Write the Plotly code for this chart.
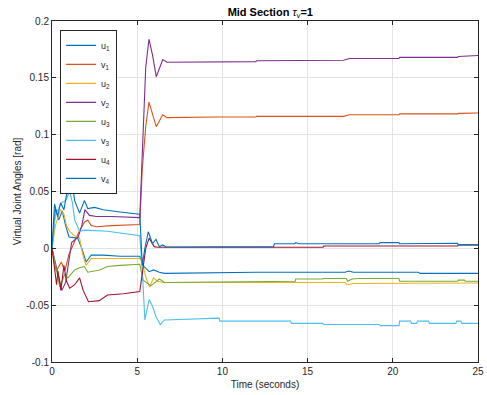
import plotly.graph_objects as go

# ---------------- data ----------------
t_u1 = [0, 0.2, 0.4, 0.6, 0.8, 1.0, 1.5, 1.75, 2.0, 2.3, 3.0, 4.0, 5.15, 5.4, 5.7, 5.96, 6.3, 6.6, 12.0, 17.2, 17.4, 17.7, 21.5, 21.6, 25]
u1 = [0, 0.035, 0.025, 0.033, 0.020, 0.010, 0.009, 0.000, -0.012, -0.006, -0.006, -0.007, -0.007, -0.016, -0.0205, -0.019, -0.021, -0.022, -0.021, -0.021, -0.020, -0.021, -0.021, -0.022, -0.022]

t_v1 = [0, 0.25, 0.55, 0.75, 1.0, 1.3, 1.6, 1.9, 2.1, 2.3, 2.6, 3.5, 5.15, 5.3, 5.5, 5.69, 5.9, 6.12, 6.3, 6.5, 6.75, 9.75, 9.8, 11.96, 12.0, 17.1, 17.46, 20.36, 20.4, 23.8, 23.85, 25]
v1 = [0, -0.020, -0.012, -0.020, -0.005, 0.005, 0.015, 0.023, 0.025, 0.020, 0.019, 0.020, 0.021, 0.070, 0.107, 0.1286, 0.119, 0.107, 0.112, 0.1175, 0.115, 0.1149, 0.1155, 0.1155, 0.1161, 0.1161, 0.1175, 0.1175, 0.1183, 0.1183, 0.1187, 0.119]

t_u2 = [0, 0.2, 0.5, 0.7, 0.85, 1.04, 1.33, 1.62, 1.8, 2.0, 2.3, 3.0, 4.0, 5.15, 5.3, 5.5, 5.73, 5.96, 6.2, 6.5, 17.2, 17.3, 17.7, 24.2, 24.3, 25]
u2 = [0, 0.020, 0.034, 0.030, 0.020, 0.015, 0.011, 0.009, -0.005, -0.015, -0.009, -0.009, -0.009, -0.009, -0.012, -0.025, -0.034, -0.026, -0.029, -0.030, -0.030, -0.032, -0.031, -0.031, -0.0305, -0.0305]

t_v2 = [0, 0.3, 0.58, 0.8, 0.96, 1.15, 1.54, 1.75, 1.93, 2.2, 2.6, 3.5, 5.15, 5.3, 5.5, 5.69, 5.9, 6.12, 6.3, 6.5, 6.75, 9.75, 9.8, 11.96, 12.0, 14.5, 14.55, 17.1, 17.46, 20.36, 20.4, 23.8, 23.85, 25]
v2 = [0, -0.020, -0.037, -0.030, -0.013, 0.005, 0.010, 0.020, 0.034, 0.029, 0.028, 0.028, 0.027, 0.090, 0.159, 0.184, 0.170, 0.151, 0.158, 0.166, 0.1637, 0.1637, 0.1643, 0.1643, 0.1650, 0.1650, 0.1655, 0.1655, 0.1670, 0.1670, 0.1680, 0.1680, 0.1688, 0.1696]

t_u3 = [0, 0.46, 0.74, 0.93, 1.33, 1.62, 1.9, 2.1, 2.8, 3.26, 4.0, 5.15, 5.35, 5.8, 6.3, 6.6, 14.28, 14.3, 15.9, 15.95, 17.27, 17.35, 17.6, 18.0, 20.36, 20.4, 23.8, 23.85, 24.2, 24.25, 25]
u3 = [0, -0.034, -0.023, -0.026, -0.019, -0.017, -0.016, -0.021, -0.019, -0.016, -0.015, -0.014, -0.028, -0.033, -0.027, -0.030, -0.029, -0.027, -0.027, -0.0265, -0.0265, -0.029, -0.027, -0.0265, -0.0265, -0.029, -0.029, -0.028, -0.028, -0.029, -0.029]

t_v3 = [0, 0.2, 0.4, 0.55, 0.8, 1.04, 1.2, 1.33, 1.62, 1.9, 3.26, 4.5, 5.15, 5.3, 5.45, 5.7, 5.9, 6.1, 6.35, 6.6, 9.8, 9.85, 14.0, 14.05, 15.9, 15.95, 19.2, 19.25, 20.36, 20.4, 21.04, 21.1, 21.4, 21.45, 22.1, 22.15, 23.7, 23.75, 24.0, 24.05, 25]
v3 = [0, 0.030, 0.035, 0.040, 0.042, 0.050, 0.040, 0.025, 0.015, 0.016, 0.015, 0.012, 0.011, -0.020, -0.063, -0.045, -0.051, -0.060, -0.067, -0.063, -0.0614, -0.064, -0.064, -0.066, -0.066, -0.067, -0.067, -0.068, -0.068, -0.064, -0.064, -0.066, -0.066, -0.064, -0.064, -0.066, -0.066, -0.064, -0.064, -0.066, -0.066]

t_u4 = [0, 0.27, 0.35, 0.52, 0.7, 0.85, 1.04, 1.33, 1.62, 1.83, 2.14, 2.77, 3.26, 4.2, 5.15, 5.3, 5.5, 5.7, 6.0, 6.2, 15.9, 15.95, 23.8, 23.85, 25]
u4 = [0, -0.032, -0.020, -0.037, -0.015, -0.029, -0.035, -0.032, -0.026, -0.037, -0.047, -0.046, -0.041, -0.040, -0.038, -0.020, 0.000, 0.009, 0.0015, 0.001, 0.001, 0.002, 0.002, 0.003, 0.003]

t_v4 = [0, 0.15, 0.33, 0.5, 0.7, 0.9, 1.1, 1.33, 1.62, 1.9, 2.1, 2.5, 3.0, 4.0, 5.15, 5.3, 5.45, 5.65, 5.9, 6.1, 6.3, 6.5, 6.7, 13.0, 13.05, 14.25, 14.3, 14.5, 15.9, 17.27, 18.0, 19.2, 19.25, 20.36, 20.4, 21.5, 22.1, 22.15, 23.8, 23.85, 25]
v4 = [0, 0.039, 0.028, 0.040, 0.034, 0.050, 0.068, 0.042, 0.031, 0.042, 0.035, 0.036, 0.034, 0.032, 0.030, -0.015, 0.000, 0.0146, 0.004, 0.008, 0.0015, 0.003, 0.0012, 0.0015, 0.004, 0.004, 0.005, 0.004, 0.004, 0.0045, 0.004, 0.004, 0.005, 0.005, 0.004, 0.004, 0.004, 0.0045, 0.0045, 0.003, 0.003]

series_names = ["u<sub>1</sub>", "v<sub>1</sub>", "u<sub>2</sub>", "v<sub>2</sub>",
                "u<sub>3</sub>", "v<sub>3</sub>", "u<sub>4</sub>", "v<sub>4</sub>"]
series_t = [t_u1, t_v1, t_u2, t_v2, t_u3, t_v3, t_u4, t_v4]
series_y = [u1, v1, u2, v2, u3, v3, u4, v4]
colors = ["#0072BD", "#D95319", "#EDB120", "#7E2F8E",
          "#77AC30", "#4DBEEE", "#A2142F", "#0072BD"]

x_ticks = [0, 5, 10, 15, 20, 25]
x_ticklabels = ["0", "5", "10", "15", "20", "25"]
y_ticks = [-0.1, -0.05, 0, 0.05, 0.1, 0.15, 0.2]
y_ticklabels = ["-0.1", "-0.05", "0", "0.05", "0.1", "0.15", "0.2"]

# ---------------- figure ----------------
fig = go.Figure()
for name, tt, yy, c in zip(series_names, series_t, series_y, colors):
    fig.add_trace(go.Scatter(x=tt, y=yy, mode="lines", name=name,
                             line=dict(color=c, width=1.1)))

axis_col = "#262626"
fam = "Liberation Sans, Arial, sans-serif"
font = dict(family=fam, size=10, color=axis_col)

fig.update_layout(
    width=487, height=395,
    margin=dict(l=52, r=3, t=21, b=33),
    paper_bgcolor="white", plot_bgcolor="white",
    font=font,
    title=dict(text="<b>Mid Section </b><i>τ</i><sub>v</sub><b>=1</b>",
               x=0.555, xanchor="center", y=0.98, yanchor="top",
               font=dict(family=fam, size=11, color="black")),
    showlegend=True,
    legend=dict(x=0.019, y=0.974, xanchor="left", yanchor="top",
                bgcolor="white", bordercolor=axis_col, borderwidth=1,
                font=dict(family=fam, size=9, color=axis_col),
                tracegroupgap=0, itemwidth=30),
    xaxis=dict(range=[0, 25], tickvals=x_ticks, ticktext=x_ticklabels,
               ticklabeloverflow="allow",
               showgrid=True, gridcolor="#e3e3e3", gridwidth=1,
               zeroline=False, showline=True, linecolor=axis_col, linewidth=1,
               mirror="ticks", ticks="inside", ticklen=4, tickcolor=axis_col,
               title=dict(text="Time (seconds)", standoff=4,
                          font=dict(family=fam, size=10, color=axis_col))),
    yaxis=dict(range=[-0.1, 0.2], tickvals=y_ticks, ticktext=y_ticklabels,
               ticklabeloverflow="allow",
               showgrid=True, gridcolor="#e3e3e3", gridwidth=1,
               zeroline=False, showline=True, linecolor=axis_col, linewidth=1,
               mirror="ticks", ticks="inside", ticklen=4, tickcolor=axis_col,
               title=dict(text="Virtual Joint Angles [rad]", standoff=2,
                          font=dict(family=fam, size=10, color=axis_col))),
)

fig.write_html("out.html")
